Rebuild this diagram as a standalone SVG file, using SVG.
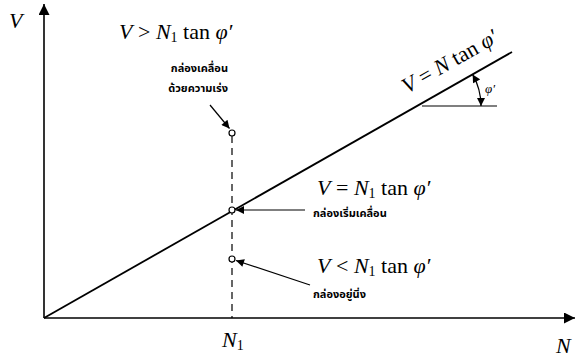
<svg xmlns="http://www.w3.org/2000/svg" width="578" height="360" viewBox="0 0 578 360">
<defs>
<style>
.ax{stroke:#000;stroke-width:1.6;fill:none}
.ln{stroke:#000;stroke-width:1.8;fill:none}
.ar{stroke:#000;stroke-width:1.2;fill:none}
.dash{stroke:#000;stroke-width:1.2;stroke-dasharray:7,5;fill:none}
.pt{fill:#fff;stroke:#000;stroke-width:1.2}
.m{font-family:"Liberation Serif","Times New Roman",serif;font-size:22px;fill:#000}
.i{font-style:italic}
.s{font-size:14px}
.th{font-family:"Noto Sans Thai","Loma","Garuda","Tlwg Typo","DejaVu Sans",sans-serif;font-size:11px;font-weight:bold;fill:#000}
</style>
<marker id="ah" viewBox="0 0 10 10" refX="10" refY="5" markerWidth="10" markerHeight="8" markerUnits="userSpaceOnUse" orient="auto-start-reverse">
<path d="M0,0 L10,5 L0,10 z" fill="#000"/>
</marker>
<marker id="big" viewBox="0 0 10 10" refX="10" refY="5" markerWidth="16" markerHeight="11" markerUnits="userSpaceOnUse" orient="auto">
<path d="M0,0 L10,5 L0,10 z" fill="#000"/>
</marker>
</defs>
<g id="connectors">
<line class="ax" x1="44" y1="318" x2="44" y2="4" marker-end="url(#big)"/>
<line class="ax" x1="44" y1="318" x2="575" y2="318" marker-end="url(#big)"/>
<line class="ln" x1="44" y1="318" x2="512" y2="52"/>
<line class="dash" x1="232" y1="136" x2="232" y2="318"/>
<line class="ar" x1="422" y1="106" x2="497" y2="106"/>
<path class="ar" d="M472.6,74.4 A64,64 0 0 1 481,106" marker-start="url(#ah)" marker-end="url(#ah)"/>
<line class="ar" x1="210" y1="105" x2="229.5" y2="128.5" marker-end="url(#ah)"/>
<line class="ar" x1="305" y1="210" x2="236" y2="210" marker-end="url(#ah)"/>
<line class="ar" x1="310" y1="285" x2="236" y2="260.5" marker-end="url(#ah)"/>
</g>
<g id="pt-top"><circle class="pt" cx="232" cy="133" r="3"/></g>
<g id="pt-mid"><circle class="pt" cx="232" cy="210" r="3"/></g>
<g id="pt-low"><circle class="pt" cx="232" cy="259" r="3"/></g>
<g id="axis-v"><text class="m i" x="9" y="28">V</text></g>
<g id="axis-n"><text class="m i" x="556" y="353">N</text></g>
<g id="n1"><text class="m" x="222" y="347"><tspan class="i">N</tspan><tspan class="s" dy="3">1</tspan></text></g>
<g id="line-label"><text class="m" transform="translate(407,94) rotate(-29.6)"><tspan class="i">V</tspan> = <tspan class="i">N</tspan> tan <tspan class="i">φ′</tspan></text></g>
<g id="angle"><text class="m i" x="485" y="93" style="font-size:13px">φ′</text></g>
<g id="accel">
<text class="m" x="119" y="39"><tspan class="i">V</tspan> &gt; <tspan class="i">N</tspan><tspan class="s" dy="3">1</tspan><tspan dy="-3"> tan </tspan><tspan class="i">φ′</tspan></text>
<text class="th" x="228" y="72" text-anchor="end">กล่องเคลื่อน</text>
<text class="th" x="228" y="92" text-anchor="end">ด้วยความเร่ง</text>
</g>
<g id="start">
<text class="m" x="317" y="195"><tspan class="i">V</tspan> = <tspan class="i">N</tspan><tspan class="s" dy="3">1</tspan><tspan dy="-3"> tan </tspan><tspan class="i">φ′</tspan></text>
<text class="th" x="313" y="217">กล่องเริ่มเคลื่อน</text>
</g>
<g id="rest">
<text class="m" x="317" y="273"><tspan class="i">V</tspan> &lt; <tspan class="i">N</tspan><tspan class="s" dy="3">1</tspan><tspan dy="-3"> tan </tspan><tspan class="i">φ′</tspan></text>
<text class="th" x="313" y="298">กล่องอยู่นิ่ง</text>
</g>
</svg>
